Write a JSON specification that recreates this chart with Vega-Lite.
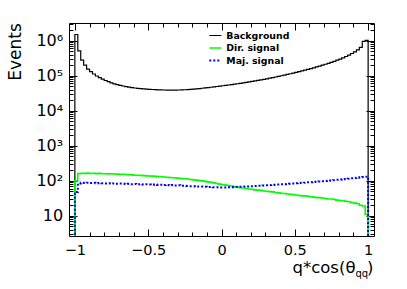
{
"$schema":"https://vega.github.io/schema/vega-lite/v6.json",
"width":305,"height":213,
"autosize":{"type":"none"},
"padding":{"left":69,"top":23,"right":33,"bottom":53},
"background":"white",
"config":{
 "view":{"stroke":"black","strokeWidth":1},
 "axis":{"grid":false,"domain":false,"tickColor":"black","tickWidth":1,"labelColor":"black","titleColor":"black","labelFont":"DejaVu Sans","titleFont":"DejaVu Sans","titleFontWeight":"normal","labelFlush":false,"labelOverlap":false}
},
"data":{"values":[
{"s":"Background","i":0,"x":-1,"v":1},
{"s":"Background","i":1,"x":-1,"v":1500000},
{"s":"Background","i":2,"x":-0.98,"v":510000},
{"s":"Background","i":3,"x":-0.96,"v":280000},
{"s":"Background","i":4,"x":-0.94,"v":200000},
{"s":"Background","i":5,"x":-0.92,"v":155000},
{"s":"Background","i":6,"x":-0.9,"v":130000},
{"s":"Background","i":7,"x":-0.88,"v":112000},
{"s":"Background","i":8,"x":-0.86,"v":98000},
{"s":"Background","i":9,"x":-0.84,"v":88000},
{"s":"Background","i":10,"x":-0.82,"v":80000},
{"s":"Background","i":11,"x":-0.8,"v":73000},
{"s":"Background","i":12,"x":-0.78,"v":67500},
{"s":"Background","i":13,"x":-0.76,"v":62500},
{"s":"Background","i":14,"x":-0.74,"v":58500},
{"s":"Background","i":15,"x":-0.72,"v":55500},
{"s":"Background","i":16,"x":-0.7,"v":53000},
{"s":"Background","i":17,"x":-0.68,"v":50800},
{"s":"Background","i":18,"x":-0.66,"v":48800},
{"s":"Background","i":19,"x":-0.64,"v":47200},
{"s":"Background","i":20,"x":-0.62,"v":45800},
{"s":"Background","i":21,"x":-0.6,"v":44600},
{"s":"Background","i":22,"x":-0.58,"v":43600},
{"s":"Background","i":23,"x":-0.56,"v":42700},
{"s":"Background","i":24,"x":-0.54,"v":42000},
{"s":"Background","i":25,"x":-0.52,"v":41400},
{"s":"Background","i":26,"x":-0.5,"v":40800},
{"s":"Background","i":27,"x":-0.48,"v":40300},
{"s":"Background","i":28,"x":-0.46,"v":39900},
{"s":"Background","i":29,"x":-0.44,"v":39500},
{"s":"Background","i":30,"x":-0.42,"v":39200},
{"s":"Background","i":31,"x":-0.4,"v":39000},
{"s":"Background","i":32,"x":-0.38,"v":38800},
{"s":"Background","i":33,"x":-0.36,"v":38700},
{"s":"Background","i":34,"x":-0.34,"v":38700},
{"s":"Background","i":35,"x":-0.32,"v":38800},
{"s":"Background","i":36,"x":-0.3,"v":39000},
{"s":"Background","i":37,"x":-0.28,"v":39300},
{"s":"Background","i":38,"x":-0.26,"v":39700},
{"s":"Background","i":39,"x":-0.24,"v":40200},
{"s":"Background","i":40,"x":-0.22,"v":40800},
{"s":"Background","i":41,"x":-0.2,"v":41400},
{"s":"Background","i":42,"x":-0.18,"v":42100},
{"s":"Background","i":43,"x":-0.16,"v":42900},
{"s":"Background","i":44,"x":-0.14,"v":43800},
{"s":"Background","i":45,"x":-0.12,"v":44700},
{"s":"Background","i":46,"x":-0.1,"v":45700},
{"s":"Background","i":47,"x":-0.08,"v":46800},
{"s":"Background","i":48,"x":-0.06,"v":47900},
{"s":"Background","i":49,"x":-0.04,"v":49100},
{"s":"Background","i":50,"x":-0.02,"v":50300},
{"s":"Background","i":51,"x":0,"v":51600},
{"s":"Background","i":52,"x":0.02,"v":52900},
{"s":"Background","i":53,"x":0.04,"v":54300},
{"s":"Background","i":54,"x":0.06,"v":55800},
{"s":"Background","i":55,"x":0.08,"v":57300},
{"s":"Background","i":56,"x":0.1,"v":58900},
{"s":"Background","i":57,"x":0.12,"v":60600},
{"s":"Background","i":58,"x":0.14,"v":62400},
{"s":"Background","i":59,"x":0.16,"v":64300},
{"s":"Background","i":60,"x":0.18,"v":66300},
{"s":"Background","i":61,"x":0.2,"v":68400},
{"s":"Background","i":62,"x":0.22,"v":70700},
{"s":"Background","i":63,"x":0.24,"v":73100},
{"s":"Background","i":64,"x":0.26,"v":75700},
{"s":"Background","i":65,"x":0.28,"v":78500},
{"s":"Background","i":66,"x":0.3,"v":81500},
{"s":"Background","i":67,"x":0.32,"v":84700},
{"s":"Background","i":68,"x":0.34,"v":88100},
{"s":"Background","i":69,"x":0.36,"v":91700},
{"s":"Background","i":70,"x":0.38,"v":95500},
{"s":"Background","i":71,"x":0.4,"v":99600},
{"s":"Background","i":72,"x":0.42,"v":104000},
{"s":"Background","i":73,"x":0.44,"v":108500},
{"s":"Background","i":74,"x":0.46,"v":113500},
{"s":"Background","i":75,"x":0.48,"v":118700},
{"s":"Background","i":76,"x":0.5,"v":124300},
{"s":"Background","i":77,"x":0.52,"v":130300},
{"s":"Background","i":78,"x":0.54,"v":136800},
{"s":"Background","i":79,"x":0.56,"v":143800},
{"s":"Background","i":80,"x":0.58,"v":151300},
{"s":"Background","i":81,"x":0.6,"v":159400},
{"s":"Background","i":82,"x":0.62,"v":168200},
{"s":"Background","i":83,"x":0.64,"v":177800},
{"s":"Background","i":84,"x":0.66,"v":188200},
{"s":"Background","i":85,"x":0.68,"v":199600},
{"s":"Background","i":86,"x":0.7,"v":212000},
{"s":"Background","i":87,"x":0.72,"v":225800},
{"s":"Background","i":88,"x":0.74,"v":241000},
{"s":"Background","i":89,"x":0.76,"v":258000},
{"s":"Background","i":90,"x":0.78,"v":277000},
{"s":"Background","i":91,"x":0.8,"v":299000},
{"s":"Background","i":92,"x":0.82,"v":324000},
{"s":"Background","i":93,"x":0.84,"v":353000},
{"s":"Background","i":94,"x":0.86,"v":388000},
{"s":"Background","i":95,"x":0.88,"v":430000},
{"s":"Background","i":96,"x":0.9,"v":480000},
{"s":"Background","i":97,"x":0.92,"v":545000},
{"s":"Background","i":98,"x":0.94,"v":640000},
{"s":"Background","i":99,"x":0.96,"v":950000},
{"s":"Background","i":100,"x":0.98,"v":1020000},
{"s":"Background","i":101,"x":1,"v":1020000},
{"s":"Background","i":102,"x":1,"v":1},
{"s":"Dir. signal","i":0,"x":-1,"v":1},
{"s":"Dir. signal","i":1,"x":-1,"v":100},
{"s":"Dir. signal","i":2,"x":-0.98,"v":160},
{"s":"Dir. signal","i":3,"x":-0.96,"v":164},
{"s":"Dir. signal","i":4,"x":-0.94,"v":162},
{"s":"Dir. signal","i":5,"x":-0.92,"v":165},
{"s":"Dir. signal","i":6,"x":-0.9,"v":161},
{"s":"Dir. signal","i":7,"x":-0.88,"v":163},
{"s":"Dir. signal","i":8,"x":-0.86,"v":160},
{"s":"Dir. signal","i":9,"x":-0.84,"v":162},
{"s":"Dir. signal","i":10,"x":-0.82,"v":158},
{"s":"Dir. signal","i":11,"x":-0.8,"v":159},
{"s":"Dir. signal","i":12,"x":-0.78,"v":157},
{"s":"Dir. signal","i":13,"x":-0.76,"v":158},
{"s":"Dir. signal","i":14,"x":-0.74,"v":155},
{"s":"Dir. signal","i":15,"x":-0.72,"v":154},
{"s":"Dir. signal","i":16,"x":-0.7,"v":152},
{"s":"Dir. signal","i":17,"x":-0.68,"v":153},
{"s":"Dir. signal","i":18,"x":-0.66,"v":150},
{"s":"Dir. signal","i":19,"x":-0.64,"v":149},
{"s":"Dir. signal","i":20,"x":-0.62,"v":147},
{"s":"Dir. signal","i":21,"x":-0.6,"v":144},
{"s":"Dir. signal","i":22,"x":-0.58,"v":143},
{"s":"Dir. signal","i":23,"x":-0.56,"v":142},
{"s":"Dir. signal","i":24,"x":-0.54,"v":140},
{"s":"Dir. signal","i":25,"x":-0.52,"v":138},
{"s":"Dir. signal","i":26,"x":-0.5,"v":136},
{"s":"Dir. signal","i":27,"x":-0.48,"v":135},
{"s":"Dir. signal","i":28,"x":-0.46,"v":133},
{"s":"Dir. signal","i":29,"x":-0.44,"v":131},
{"s":"Dir. signal","i":30,"x":-0.42,"v":130},
{"s":"Dir. signal","i":31,"x":-0.4,"v":128},
{"s":"Dir. signal","i":32,"x":-0.38,"v":126},
{"s":"Dir. signal","i":33,"x":-0.36,"v":124},
{"s":"Dir. signal","i":34,"x":-0.34,"v":122},
{"s":"Dir. signal","i":35,"x":-0.32,"v":121},
{"s":"Dir. signal","i":36,"x":-0.3,"v":118},
{"s":"Dir. signal","i":37,"x":-0.28,"v":116},
{"s":"Dir. signal","i":38,"x":-0.26,"v":114},
{"s":"Dir. signal","i":39,"x":-0.24,"v":112},
{"s":"Dir. signal","i":40,"x":-0.22,"v":109},
{"s":"Dir. signal","i":41,"x":-0.2,"v":106},
{"s":"Dir. signal","i":42,"x":-0.18,"v":104},
{"s":"Dir. signal","i":43,"x":-0.16,"v":101},
{"s":"Dir. signal","i":44,"x":-0.14,"v":99},
{"s":"Dir. signal","i":45,"x":-0.12,"v":96},
{"s":"Dir. signal","i":46,"x":-0.1,"v":93},
{"s":"Dir. signal","i":47,"x":-0.08,"v":90},
{"s":"Dir. signal","i":48,"x":-0.06,"v":87},
{"s":"Dir. signal","i":49,"x":-0.04,"v":83},
{"s":"Dir. signal","i":50,"x":-0.02,"v":80},
{"s":"Dir. signal","i":51,"x":0,"v":77},
{"s":"Dir. signal","i":52,"x":0.02,"v":75},
{"s":"Dir. signal","i":53,"x":0.04,"v":73},
{"s":"Dir. signal","i":54,"x":0.06,"v":71},
{"s":"Dir. signal","i":55,"x":0.08,"v":68},
{"s":"Dir. signal","i":56,"x":0.1,"v":66},
{"s":"Dir. signal","i":57,"x":0.12,"v":63},
{"s":"Dir. signal","i":58,"x":0.14,"v":62},
{"s":"Dir. signal","i":59,"x":0.16,"v":60},
{"s":"Dir. signal","i":60,"x":0.18,"v":58},
{"s":"Dir. signal","i":61,"x":0.2,"v":57},
{"s":"Dir. signal","i":62,"x":0.22,"v":55},
{"s":"Dir. signal","i":63,"x":0.24,"v":54},
{"s":"Dir. signal","i":64,"x":0.26,"v":53},
{"s":"Dir. signal","i":65,"x":0.28,"v":51},
{"s":"Dir. signal","i":66,"x":0.3,"v":50},
{"s":"Dir. signal","i":67,"x":0.32,"v":49},
{"s":"Dir. signal","i":68,"x":0.34,"v":48},
{"s":"Dir. signal","i":69,"x":0.36,"v":46},
{"s":"Dir. signal","i":70,"x":0.38,"v":45},
{"s":"Dir. signal","i":71,"x":0.4,"v":44},
{"s":"Dir. signal","i":72,"x":0.42,"v":43},
{"s":"Dir. signal","i":73,"x":0.44,"v":42},
{"s":"Dir. signal","i":74,"x":0.46,"v":41},
{"s":"Dir. signal","i":75,"x":0.48,"v":40},
{"s":"Dir. signal","i":76,"x":0.5,"v":39},
{"s":"Dir. signal","i":77,"x":0.52,"v":38},
{"s":"Dir. signal","i":78,"x":0.54,"v":37},
{"s":"Dir. signal","i":79,"x":0.56,"v":37},
{"s":"Dir. signal","i":80,"x":0.58,"v":36},
{"s":"Dir. signal","i":81,"x":0.6,"v":35},
{"s":"Dir. signal","i":82,"x":0.62,"v":34},
{"s":"Dir. signal","i":83,"x":0.64,"v":33},
{"s":"Dir. signal","i":84,"x":0.66,"v":33},
{"s":"Dir. signal","i":85,"x":0.68,"v":32},
{"s":"Dir. signal","i":86,"x":0.7,"v":31},
{"s":"Dir. signal","i":87,"x":0.72,"v":30},
{"s":"Dir. signal","i":88,"x":0.74,"v":30},
{"s":"Dir. signal","i":89,"x":0.76,"v":29},
{"s":"Dir. signal","i":90,"x":0.78,"v":28},
{"s":"Dir. signal","i":91,"x":0.8,"v":27},
{"s":"Dir. signal","i":92,"x":0.82,"v":27},
{"s":"Dir. signal","i":93,"x":0.84,"v":26},
{"s":"Dir. signal","i":94,"x":0.86,"v":25},
{"s":"Dir. signal","i":95,"x":0.88,"v":24},
{"s":"Dir. signal","i":96,"x":0.9,"v":23},
{"s":"Dir. signal","i":97,"x":0.92,"v":22},
{"s":"Dir. signal","i":98,"x":0.94,"v":20},
{"s":"Dir. signal","i":99,"x":0.96,"v":19},
{"s":"Dir. signal","i":100,"x":0.98,"v":11},
{"s":"Dir. signal","i":101,"x":1,"v":11},
{"s":"Dir. signal","i":102,"x":1,"v":1},
{"s":"Maj. signal","i":0,"x":-1,"v":1},
{"s":"Maj. signal","i":1,"x":-1,"v":48},
{"s":"Maj. signal","i":2,"x":-0.98,"v":84},
{"s":"Maj. signal","i":3,"x":-0.96,"v":87},
{"s":"Maj. signal","i":4,"x":-0.94,"v":86},
{"s":"Maj. signal","i":5,"x":-0.92,"v":88},
{"s":"Maj. signal","i":6,"x":-0.9,"v":86},
{"s":"Maj. signal","i":7,"x":-0.88,"v":87},
{"s":"Maj. signal","i":8,"x":-0.86,"v":85},
{"s":"Maj. signal","i":9,"x":-0.84,"v":86},
{"s":"Maj. signal","i":10,"x":-0.82,"v":85},
{"s":"Maj. signal","i":11,"x":-0.8,"v":84},
{"s":"Maj. signal","i":12,"x":-0.78,"v":85},
{"s":"Maj. signal","i":13,"x":-0.76,"v":83},
{"s":"Maj. signal","i":14,"x":-0.74,"v":84},
{"s":"Maj. signal","i":15,"x":-0.72,"v":82},
{"s":"Maj. signal","i":16,"x":-0.7,"v":83},
{"s":"Maj. signal","i":17,"x":-0.68,"v":82},
{"s":"Maj. signal","i":18,"x":-0.66,"v":81},
{"s":"Maj. signal","i":19,"x":-0.64,"v":82},
{"s":"Maj. signal","i":20,"x":-0.62,"v":80},
{"s":"Maj. signal","i":21,"x":-0.6,"v":81},
{"s":"Maj. signal","i":22,"x":-0.58,"v":79},
{"s":"Maj. signal","i":23,"x":-0.56,"v":80},
{"s":"Maj. signal","i":24,"x":-0.54,"v":78},
{"s":"Maj. signal","i":25,"x":-0.52,"v":79},
{"s":"Maj. signal","i":26,"x":-0.5,"v":78},
{"s":"Maj. signal","i":27,"x":-0.48,"v":77},
{"s":"Maj. signal","i":28,"x":-0.46,"v":78},
{"s":"Maj. signal","i":29,"x":-0.44,"v":76},
{"s":"Maj. signal","i":30,"x":-0.42,"v":77},
{"s":"Maj. signal","i":31,"x":-0.4,"v":75},
{"s":"Maj. signal","i":32,"x":-0.38,"v":76},
{"s":"Maj. signal","i":33,"x":-0.36,"v":74},
{"s":"Maj. signal","i":34,"x":-0.34,"v":75},
{"s":"Maj. signal","i":35,"x":-0.32,"v":73},
{"s":"Maj. signal","i":36,"x":-0.3,"v":74},
{"s":"Maj. signal","i":37,"x":-0.28,"v":72},
{"s":"Maj. signal","i":38,"x":-0.26,"v":72},
{"s":"Maj. signal","i":39,"x":-0.24,"v":71},
{"s":"Maj. signal","i":40,"x":-0.22,"v":70},
{"s":"Maj. signal","i":41,"x":-0.2,"v":70},
{"s":"Maj. signal","i":42,"x":-0.18,"v":69},
{"s":"Maj. signal","i":43,"x":-0.16,"v":68},
{"s":"Maj. signal","i":44,"x":-0.14,"v":68},
{"s":"Maj. signal","i":45,"x":-0.12,"v":67},
{"s":"Maj. signal","i":46,"x":-0.1,"v":66},
{"s":"Maj. signal","i":47,"x":-0.08,"v":66},
{"s":"Maj. signal","i":48,"x":-0.06,"v":65},
{"s":"Maj. signal","i":49,"x":-0.04,"v":65},
{"s":"Maj. signal","i":50,"x":-0.02,"v":64},
{"s":"Maj. signal","i":51,"x":0,"v":64},
{"s":"Maj. signal","i":52,"x":0.02,"v":64},
{"s":"Maj. signal","i":53,"x":0.04,"v":65},
{"s":"Maj. signal","i":54,"x":0.06,"v":65},
{"s":"Maj. signal","i":55,"x":0.08,"v":66},
{"s":"Maj. signal","i":56,"x":0.1,"v":66},
{"s":"Maj. signal","i":57,"x":0.12,"v":67},
{"s":"Maj. signal","i":58,"x":0.14,"v":68},
{"s":"Maj. signal","i":59,"x":0.16,"v":68},
{"s":"Maj. signal","i":60,"x":0.18,"v":69},
{"s":"Maj. signal","i":61,"x":0.2,"v":70},
{"s":"Maj. signal","i":62,"x":0.22,"v":71},
{"s":"Maj. signal","i":63,"x":0.24,"v":72},
{"s":"Maj. signal","i":64,"x":0.26,"v":72},
{"s":"Maj. signal","i":65,"x":0.28,"v":73},
{"s":"Maj. signal","i":66,"x":0.3,"v":74},
{"s":"Maj. signal","i":67,"x":0.32,"v":75},
{"s":"Maj. signal","i":68,"x":0.34,"v":76},
{"s":"Maj. signal","i":69,"x":0.36,"v":77},
{"s":"Maj. signal","i":70,"x":0.38,"v":78},
{"s":"Maj. signal","i":71,"x":0.4,"v":79},
{"s":"Maj. signal","i":72,"x":0.42,"v":80},
{"s":"Maj. signal","i":73,"x":0.44,"v":81},
{"s":"Maj. signal","i":74,"x":0.46,"v":82},
{"s":"Maj. signal","i":75,"x":0.48,"v":83},
{"s":"Maj. signal","i":76,"x":0.5,"v":85},
{"s":"Maj. signal","i":77,"x":0.52,"v":86},
{"s":"Maj. signal","i":78,"x":0.54,"v":87},
{"s":"Maj. signal","i":79,"x":0.56,"v":88},
{"s":"Maj. signal","i":80,"x":0.58,"v":90},
{"s":"Maj. signal","i":81,"x":0.6,"v":91},
{"s":"Maj. signal","i":82,"x":0.62,"v":92},
{"s":"Maj. signal","i":83,"x":0.64,"v":94},
{"s":"Maj. signal","i":84,"x":0.66,"v":95},
{"s":"Maj. signal","i":85,"x":0.68,"v":97},
{"s":"Maj. signal","i":86,"x":0.7,"v":98},
{"s":"Maj. signal","i":87,"x":0.72,"v":100},
{"s":"Maj. signal","i":88,"x":0.74,"v":102},
{"s":"Maj. signal","i":89,"x":0.76,"v":104},
{"s":"Maj. signal","i":90,"x":0.78,"v":106},
{"s":"Maj. signal","i":91,"x":0.8,"v":108},
{"s":"Maj. signal","i":92,"x":0.82,"v":110},
{"s":"Maj. signal","i":93,"x":0.84,"v":112},
{"s":"Maj. signal","i":94,"x":0.86,"v":114},
{"s":"Maj. signal","i":95,"x":0.88,"v":117},
{"s":"Maj. signal","i":96,"x":0.9,"v":119},
{"s":"Maj. signal","i":97,"x":0.92,"v":122},
{"s":"Maj. signal","i":98,"x":0.94,"v":125},
{"s":"Maj. signal","i":99,"x":0.96,"v":128},
{"s":"Maj. signal","i":100,"x":0.98,"v":130},
{"s":"Maj. signal","i":101,"x":1,"v":130},
{"s":"Maj. signal","i":102,"x":1,"v":1}
]},
"layer":[
 {"mark":{"type":"line","interpolate":"step-after","clip":true},
  "encoding":{
   "x":{"field":"x","type":"quantitative","scale":{"domain":[-1.04,1.04],"nice":false,"zero":false},
        "axis":{"orient":"bottom","values":[-1,-0.5,0,0.5,1],"format":"~g","tickSize":-7,"labelFontSize":14.5,"labelPadding":14.7,"labelBaseline":"top",
                "title":"q*cos(θ","titleFontSize":16.5,"titleAlign":"right","titleBaseline":"alphabetic","titleX":286,"titleY":36.7}},
   "y":{"field":"v","type":"quantitative","scale":{"type":"log","domain":[2.64,3200000],"nice":false},
        "axis":{"orient":"left","values":[10,100,1000,10000,100000,1000000],"tickSize":-8,"labelFontSize":16,"labelPadding":14.3,
                "labelExpr":"datum.value >= 1000000 ? '10⁶' : datum.value >= 100000 ? '10⁵' : datum.value >= 10000 ? '10⁴' : datum.value >= 1000 ? '10³' : datum.value >= 100 ? '10²' : '10'",
                "title":"Events","titleFontSize":17,"titleAngle":-90,"titleAlign":"center","titleBaseline":"middle","titleX":-53.7,"titleY":28.5}},
   "order":{"field":"i","type":"quantitative"},
   "color":{"field":"s","type":"ordinal","scale":{"domain":["Background","Dir. signal","Maj. signal"],"range":["#000000","#00ff00","#0000ff"]},
            "legend":{"orient":"none","legendX":139.3,"legendY":5.5,"padding":0,"title":null,"labelFont":"DejaVu Sans","labelFontWeight":"bold","labelFontSize":9.4,"labelColor":"black","symbolType":"stroke","symbolSize":144,"rowPadding":0.5,"labelOffset":4}},
   "strokeDash":{"field":"s","type":"ordinal","scale":{"domain":["Background","Dir. signal","Maj. signal"],"range":[[1,0],[1,0],[2,2]]},
            "legend":{"orient":"none","legendX":139.3,"legendY":5.5,"padding":0,"title":null,"labelFont":"DejaVu Sans","labelFontWeight":"bold","labelFontSize":9.4,"labelColor":"black","symbolType":"stroke","symbolSize":144,"rowPadding":0.5,"labelOffset":4}},
   "strokeWidth":{"field":"s","type":"ordinal","scale":{"domain":["Background","Dir. signal","Maj. signal"],"range":[1.2,2,2]},
            "legend":{"orient":"none","legendX":139.3,"legendY":5.5,"padding":0,"title":null,"labelFont":"DejaVu Sans","labelFontWeight":"bold","labelFontSize":9.4,"labelColor":"black","symbolType":"stroke","symbolSize":144,"rowPadding":0.5,"labelOffset":4}}
  }},
 {"mark":{"type":"point","opacity":0,"clip":true},
  "encoding":{
   "x":{"field":"x","type":"quantitative","scale":{"domain":[-1.04,1.04],"nice":false,"zero":false},
        "axis":{"orient":"bottom","values":[-0.9,-0.8,-0.7,-0.6,-0.4,-0.3,-0.2,-0.1,0.1,0.2,0.3,0.4,0.6,0.7,0.8,0.9],"tickSize":-4,"labels":false,
                "title":"qq","titleFontSize":10,"titleAlign":"left","titleBaseline":"alphabetic","titleX":286,"titleY":40}},
   "y":{"field":"v","type":"quantitative","scale":{"type":"log","domain":[2.64,3200000],"nice":false},
        "axis":{"orient":"left","values":[3,4,5,6,7,8,9,20,30,40,50,60,70,80,90,200,300,400,500,600,700,800,900,2000,3000,4000,5000,6000,7000,8000,9000,20000,30000,40000,50000,60000,70000,80000,90000,200000,300000,400000,500000,600000,700000,800000,900000,2000000,3000000],"tickSize":-4,"labels":false,"title":null}}
  }},
 {"mark":{"type":"point","opacity":0,"clip":true},
  "encoding":{
   "x":{"field":"x","type":"quantitative","scale":{"domain":[-1.04,1.04],"nice":false,"zero":false},
        "axis":{"orient":"top","values":[-1,-0.5,0,0.5,1],"tickSize":-7,"labels":false,
                "title":")","titleFontSize":16.5,"titleAlign":"left","titleBaseline":"alphabetic","titleX":297.5,"titleY":249.7}},
   "y":{"field":"v","type":"quantitative","scale":{"type":"log","domain":[2.64,3200000],"nice":false},
        "axis":{"orient":"right","values":[10,100,1000,10000,100000,1000000],"tickSize":-8,"labels":false,"title":null}}
  }},
 {"mark":{"type":"point","opacity":0,"clip":true},
  "encoding":{
   "x":{"field":"x","type":"quantitative","scale":{"domain":[-1.04,1.04],"nice":false,"zero":false},
        "axis":{"orient":"top","values":[-0.9,-0.8,-0.7,-0.6,-0.4,-0.3,-0.2,-0.1,0.1,0.2,0.3,0.4,0.6,0.7,0.8,0.9],"tickSize":-4,"labels":false,"title":null}},
   "y":{"field":"v","type":"quantitative","scale":{"type":"log","domain":[2.64,3200000],"nice":false},
        "axis":{"orient":"right","values":[3,4,5,6,7,8,9,20,30,40,50,60,70,80,90,200,300,400,500,600,700,800,900,2000,3000,4000,5000,6000,7000,8000,9000,20000,30000,40000,50000,60000,70000,80000,90000,200000,300000,400000,500000,600000,700000,800000,900000,2000000,3000000],"tickSize":-4,"labels":false,"title":null}}
  }}
],
"resolve":{"axis":{"x":"independent","y":"independent"}}
}
